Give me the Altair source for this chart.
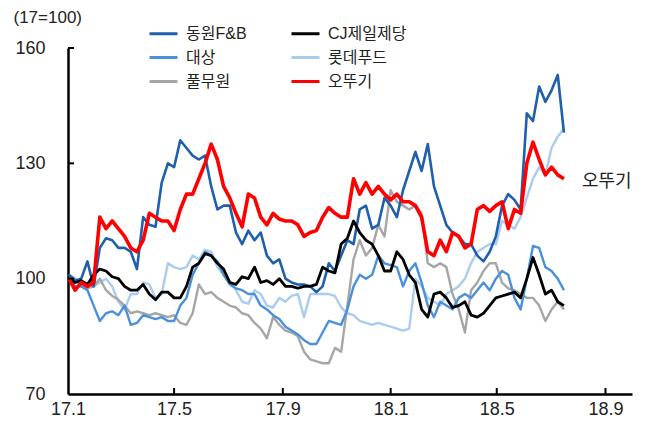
import altair as alt
import pandas as pd

# weekly observation dates (start 2017-01-02)
dates = pd.date_range("2017-01-02", periods=81, freq="7D").strftime("%Y-%m-%d").tolist()

dongwon = [101, 99.5, 100, 104.5, 98, 108, 110.5, 110, 108, 108,
           107, 102.5, 116, 114, 113.5, 125, 130, 129, 136, 134,
           132, 131, 132, 124, 118, 119, 119, 112, 109, 112.5,
           110, 112, 106, 104, 105, 100, 99, 98.5, 98.5, 98,
           96.5, 98, 104, 102, 106, 110, 109, 118, 119, 113,
           114, 121, 119, 116, 123, 128, 133, 128, 135, 124,
           119, 114, 112, 111, 109, 109, 106, 104.5, 107, 111,
           119, 122, 120.5, 118, 143, 141, 150, 146, 149, 153,
           138]
cj = [100, 99, 99.5, 98.5, 101, 102.5, 102, 100.5, 100, 98,
      97, 97, 98.5, 96, 94.5, 96.5, 96.5, 95, 95, 98,
      103, 104, 106.5, 106, 104, 102.5, 99, 98.5, 100.5, 100,
      103, 99, 99.5, 98.5, 100, 98, 98, 97.5, 98, 98,
      98.5, 103, 102, 101.5, 109, 110.5, 115, 112, 110, 109,
      106, 102, 102, 107, 105, 101, 99, 92, 90, 96,
      96.5, 95, 92.5, 93, 94, 90.5, 90, 91, 93, 95,
      95.5, 96, 96.5, 95, 100, 105.5, 101, 96, 97, 94,
      93]
daesang = [100, 98, 98, 97, 93, 89, 91, 91.5, 90.5, 93,
           88, 88.5, 90.5, 90, 89.5, 90, 89, 89, 93, 95,
           101, 104, 107, 106, 104.5, 101, 98.5, 97.5, 97, 96,
           96, 93, 92, 90.5, 89.5, 87.5, 86.5, 85.5, 84, 83,
           83, 86, 89, 88.5, 88, 92, 98, 101, 100, 101,
           106, 104, 103.5, 103, 98, 102, 104, 99, 93, 90,
           94, 93, 92, 95, 96, 95, 97, 99, 97, 100,
           102, 101, 95, 92, 100, 108.5, 108, 103, 102, 100,
           97]
lotte = [100, 99.5, 98, 98, 98, 99, 100, 98, 94, 92,
         96, 96, 99, 98.5, 95, 96, 104, 103, 102.5, 103,
         106, 105, 107.5, 107, 103, 101, 99.5, 97, 94, 93.5,
         97, 96, 93, 92.5, 95, 94, 95.5, 96, 90, 96,
         96, 96, 96, 95.5, 92.5, 91, 90.5, 89, 88.5, 88,
         88.5, 88, 87.5, 87, 86.5, 87, 100, 98, 95, 94,
         93, 96, 97, 98, 100, 104, 107, 108, 109, 109,
         115, 114, 113, 116, 121, 126, 129, 127, 134, 137,
         139]
pulmuone = [101, 100, 98, 97.5, 98, 100, 97, 95.5, 94.5, 93,
            91, 91.5, 91, 90.5, 91, 90.5, 90, 90.5, 88.5, 88,
            91, 98.5, 96, 96.5, 95, 94, 93, 92.5, 91, 90.5,
            88.5, 87, 84.5, 90, 88, 86.5, 86, 85, 81, 79,
            78.5, 78, 78, 82, 81, 93, 105, 110, 106, 108,
            114, 111, 123, 120, 119, 118, 119, 117, 104, 103,
            104, 103, 96, 92, 86, 97, 99, 102, 104, 104,
            99, 97.5, 97, 96, 95, 95, 93, 89, 92, 94,
            92]
ottogi = [100, 97, 99, 98, 99, 116, 113, 115, 113, 111,
          108, 107, 110, 117, 116, 115, 115, 112.5, 118, 122,
          122, 126, 130, 135, 131, 124, 121, 117, 113.5, 122,
          121, 116, 114, 117, 115.5, 115, 115, 114, 111, 112,
          112.5, 116, 118.5, 117, 116, 116, 126, 122, 125, 122,
          124, 122, 120.5, 122, 120, 120, 119, 116, 107, 106,
          110, 107, 112, 111, 108, 109, 118, 119, 117.5, 119,
          120, 113, 118, 117, 130, 135.5, 131, 127, 129, 127,
          126]

# legend is filled column by column: left column first, then right column
names = ["동원F&B", "대상", "풀무원", "CJ제일제당", "롯데푸드", "오뚜기"]
colors = ["#1F5FAD", "#4A90DA", "#A6A6A6", "#000000", "#A9CCEF", "#FF0000"]
values = {"동원F&B": dongwon, "CJ제일제당": cj, "대상": daesang,
          "롯데푸드": lotte, "풀무원": pulmuone, "오뚜기": ottogi}

tick_dates = ["2017-01-01", "2017-05-01", "2017-09-01", "2018-01-01", "2018-05-01", "2018-09-01"]
y_ticks = [70, 100, 130, 160]

rows = []
for n in names:
    for d, v in zip(dates, values[n]):
        rows.append({"date": d, "value": v, "series": n})
df = pd.DataFrame(rows)

FONT = "Liberation Sans, Noto Sans CJK KR, sans-serif"

x = alt.X("date:T",
          scale=alt.Scale(type="utc",
                          domain=[alt.DateTime(year=2017, month=1, date=1, utc=True),
                                  alt.DateTime(year=2018, month=10, date=1, utc=True)]),
          axis=alt.Axis(values=[alt.DateTime(year=int(t[:4]), month=int(t[5:7]), date=1, utc=True) for t in tick_dates],
                        labelExpr="utcFormat(datum.value, '%y') + '.' + (utcmonth(datum.value) + 1)",
                        title=None, tickSize=0,
                        labelPadding=6, labelFontSize=18, labelFlush=False, labelOverlap=False,
                        grid=False, domainColor="black", domainWidth=2.5, labelColor="#222222"))
y = alt.Y("value:Q",
          scale=alt.Scale(domain=[70, 160], nice=False, zero=False),
          axis=alt.Axis(values=y_ticks, title="(17=100)", titleAngle=0, titleX=-55, titleY=-31,
                        titleAlign="left", titleBaseline="middle", titleFontSize=17,
                        titleFontWeight="normal", titleColor="#222222",
                        tickSize=0, labelPadding=23, labelFontSize=18, grid=False,
                        domainColor="black", domainWidth=2.5, labelColor="#222222"))
color = alt.Color("series:N", scale=alt.Scale(domain=names, range=colors),
                  legend=alt.Legend(title=None, orient="none", legendX=80, legendY=-30,
                                    columns=2, symbolType="stroke", symbolSize=784,
                                    symbolStrokeWidth=3, labelFontSize=16, labelOffset=7,
                                    columnPadding=38, rowPadding=0, labelColor="#222222"))

base = alt.Chart(df)
order = [("롯데푸드", 2.4), ("풀무원", 2.4), ("대상", 2.4), ("동원F&B", 2.6), ("CJ제일제당", 2.8), ("오뚜기", 3.6)]
layers = []
for n, w in order:
    layers.append(base.transform_filter(alt.datum.series == n)
                  .mark_line(strokeWidth=w, strokeJoin="round")
                  .encode(x=x, y=y, color=color))

xt = alt.Chart(pd.DataFrame({"date": tick_dates[1:]})).mark_rule(color="black", strokeWidth=2).encode(
    x=x, y=alt.value(346), y2=alt.value(340))
yt = alt.Chart(pd.DataFrame({"value": y_ticks[1:]})).mark_rule(color="black", strokeWidth=2).encode(
    y=y, x=alt.value(0), x2=alt.value(6))
lab = alt.Chart(pd.DataFrame({"date": [dates[-1]], "value": [ottogi[-1]], "label": ["오뚜기"]})).mark_text(
    align="left", baseline="middle", dx=18, dy=3, fontSize=18, font=FONT, color="#222222").encode(
    x=x, y=y, text="label:N")

chart = alt.layer(*layers, xt, yt, lab).properties(
    width=564, height=346,
    autosize=alt.AutoSizeParams(type="none"),
    padding={"left": 60, "top": 40, "right": 5, "bottom": 23},
).configure_view(stroke=None).configure_axis(labelFont=FONT, titleFont=FONT).configure_legend(labelFont=FONT)

chart.save("out.html", embed_options={"renderer": "svg", "actions": False})
